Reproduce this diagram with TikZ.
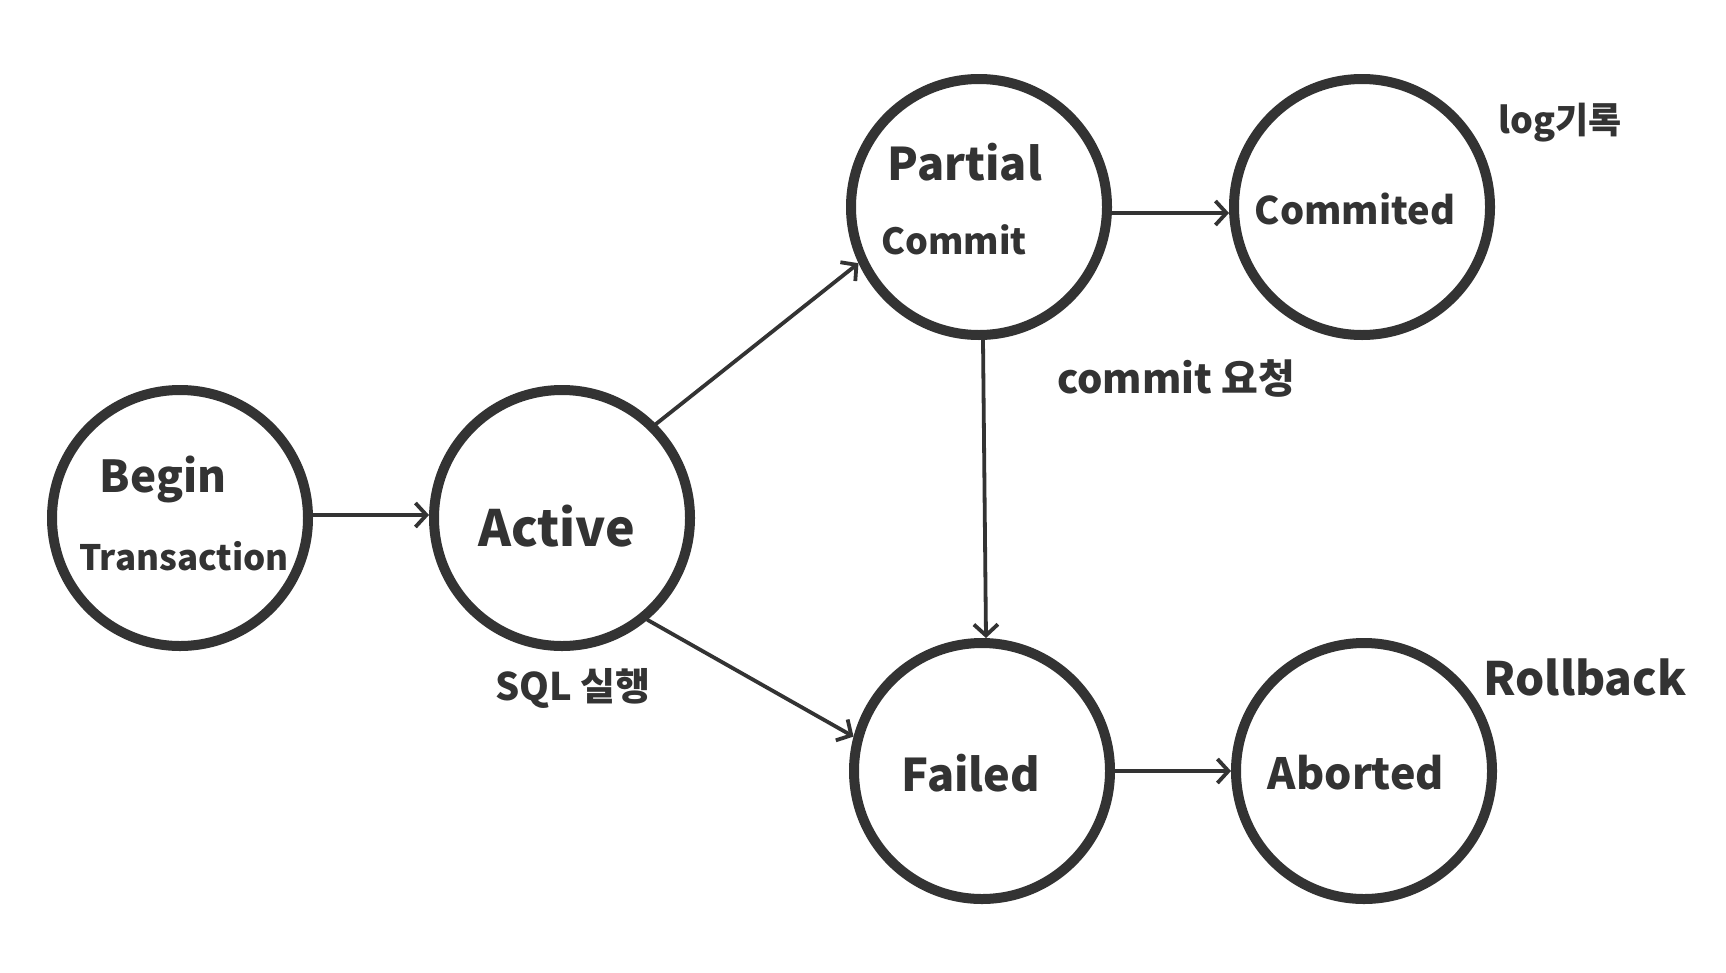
\documentclass[tikz,border=0pt]{standalone}
\usepackage{fontspec}
\setmainfont{Noto Sans CJK KR}
\usetikzlibrary{arrows.meta}
\definecolor{ink}{HTML}{333333}
\newcommand{\fs}[1]{\fontsize{#1}{#1}\selectfont\bfseries}
\tikzset{
  statecirc/.style={circle, draw=ink, line width=10pt, minimum size=256pt, inner sep=0pt},
  flow/.style={draw=ink, line width=3.8pt, line cap=round, -{Straight Barb[length=11pt,width=24pt,line width=3.8pt]}},
  intext/.style={text=ink, inner sep=0pt},
  lbl/.style={text=ink, inner sep=0pt}
}
\begin{document}
\begin{tikzpicture}[x=1pt,y=-1pt]
\useasboundingbox[fill=white] (0,0) rectangle (1726,972);
\node[statecirc] (B) at (180,518) {};
\node[statecirc] (A) at (562,518) {};
\node[statecirc] (P) at (979,207) {};
\node[statecirc] (C) at (1362,207) {};
\node[statecirc] (F) at (982,771) {};
\node[statecirc] (Ab) at (1364,771) {};

\node[intext, font=\fs{44}] (tB1) at (163,479) {Begin};
\node[intext, font=\fs{35}] (tB2) at (184,556) {Transaction};
\node[intext, font=\fs{50}] (tA) at (557,526) {Active};
\node[intext, font=\fs{45}] (tP1) at (965,162) {Partial};
\node[intext, font=\fs{36}] (tP2) at (954,240) {Commit};
\node[intext, font=\fs{38}] (tC) at (1355,209) {Commited};
\node[intext, font=\fs{45}] (tF) at (971,773) {Failed};
\node[intext, font=\fs{43}] (tAb) at (1356,773) {Aborted};

\node[lbl, font=\fs{36}] (l1) at (1560,123) {log기록};
\node[lbl, font=\fs{40}] (l2) at (1176,378) {commit 요청};
\node[lbl, font=\fs{38}] (l3) at (573,688) {SQL 실행};
\node[lbl, font=\fs{46}] (l4) at (1585,677) {Rollback};

\draw[flow] ([yshift=3pt]B.east) -- ([yshift=3pt]A.west);
\draw[flow] (A.45) -- (P.205);
\draw[flow] (A.-50) -- (F.165);
\draw[flow] ([xshift=4pt]P.south) -- ([xshift=4pt]F.north);
\draw[flow] ([yshift=-6pt]P.east) -- ([yshift=-6pt]C.west);
\draw[flow] (F.east) -- (Ab.west);
\end{tikzpicture}
\end{document}
